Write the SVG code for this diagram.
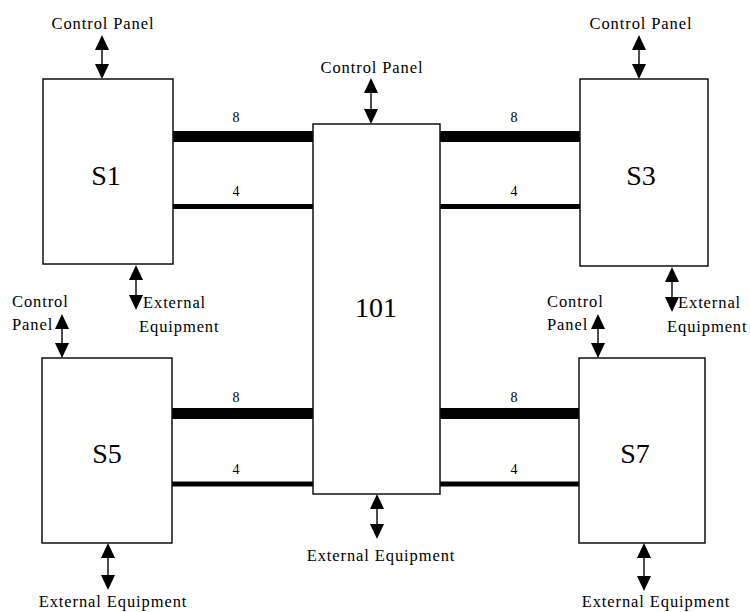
<svg xmlns="http://www.w3.org/2000/svg" width="750" height="612" viewBox="0 0 750 612">
<style>
  .box { fill: #fff; stroke: #111; stroke-width: 1.5; }
  text { font-family: "Liberation Serif", "Times New Roman", "DejaVu Serif", serif; fill: #000; }
  .big { font-size: 28px; text-anchor: middle; }
  .lbl { font-size: 16.5px; letter-spacing: 0.9px; }
  .mid { text-anchor: middle; }
  .num { font-size: 14px; text-anchor: middle; }
  .bus8 { stroke: #000; stroke-width: 11; fill: none; }
  .bus4 { stroke: #000; stroke-width: 5; fill: none; }
  .shaft { stroke: #111; stroke-width: 1.5; fill: none; }
  .head { fill: #000; }
</style>
<defs>
  <g id="dbl">
    <polygon class="head" points="0,0 7,15 -7,15"/>
    <polygon class="head" points="0,0 7,-15 -7,-15" transform="translate(0,1)"/>
  </g>
</defs>
<rect width="750" height="612" fill="#fff"/>

<g id="connectors">
  <line class="bus8" x1="173" y1="136.5" x2="313" y2="136.5"/>
  <line class="bus4" x1="173" y1="206.5" x2="313" y2="206.5"/>
  <line class="bus8" x1="440" y1="136.5" x2="580" y2="136.5"/>
  <line class="bus4" x1="440" y1="206.5" x2="580" y2="206.5"/>
  <line class="bus8" x1="172" y1="413.5" x2="313" y2="413.5"/>
  <line class="bus4" x1="172" y1="484" x2="313" y2="484"/>
  <line class="bus8" x1="440" y1="413.5" x2="579" y2="413.5"/>
  <line class="bus4" x1="440" y1="484" x2="579" y2="484"/>
  <text class="num" x="236" y="122">8</text>
  <text class="num" x="236" y="196">4</text>
  <text class="num" x="514" y="122">8</text>
  <text class="num" x="514" y="196">4</text>
  <text class="num" x="236" y="402">8</text>
  <text class="num" x="236" y="474">4</text>
  <text class="num" x="514" y="402">8</text>
  <text class="num" x="514" y="474">4</text>

  <!-- double-headed arrows: shaft + two heads (top tip, bottom tip) -->
  <g id="arrow-s1-top">
    <line class="shaft" x1="102" y1="45" x2="102" y2="70"/>
    <polygon class="head" points="102,35 109,50 95,50"/>
    <polygon class="head" points="102,79 109,64 95,64"/>
  </g>
  <g id="arrow-101-top">
    <line class="shaft" x1="371" y1="88" x2="371" y2="115"/>
    <polygon class="head" points="371,78 378,93 364,93"/>
    <polygon class="head" points="371,124 378,109 364,109"/>
  </g>
  <g id="arrow-s3-top">
    <line class="shaft" x1="639" y1="45" x2="639" y2="70"/>
    <polygon class="head" points="639,35 646,50 632,50"/>
    <polygon class="head" points="639,79 646,64 632,64"/>
  </g>
  <g id="arrow-s1-bottom">
    <line class="shaft" x1="136" y1="275" x2="136" y2="300"/>
    <polygon class="head" points="136,265 143,280 129,280"/>
    <polygon class="head" points="136,310 143,295 129,295"/>
  </g>
  <g id="arrow-s3-bottom">
    <line class="shaft" x1="672" y1="277" x2="672" y2="302"/>
    <polygon class="head" points="672,267 679,282 665,282"/>
    <polygon class="head" points="672,312 679,297 665,297"/>
  </g>
  <g id="arrow-s5-top">
    <line class="shaft" x1="62" y1="324" x2="62" y2="349"/>
    <polygon class="head" points="62,314 69,329 55,329"/>
    <polygon class="head" points="62,358 69,343 55,343"/>
  </g>
  <g id="arrow-s7-top">
    <line class="shaft" x1="598" y1="324" x2="598" y2="349"/>
    <polygon class="head" points="598,314 605,329 591,329"/>
    <polygon class="head" points="598,358 605,343 591,343"/>
  </g>
  <g id="arrow-s5-bottom">
    <line class="shaft" x1="108" y1="553" x2="108" y2="580"/>
    <polygon class="head" points="108,543 115,558 101,558"/>
    <polygon class="head" points="108,590 115,575 101,575"/>
  </g>
  <g id="arrow-101-bottom">
    <line class="shaft" x1="377" y1="504" x2="377" y2="529"/>
    <polygon class="head" points="377,494 384,509 370,509"/>
    <polygon class="head" points="377,539 384,524 370,524"/>
  </g>
  <g id="arrow-s7-bottom">
    <line class="shaft" x1="644" y1="553" x2="644" y2="581"/>
    <polygon class="head" points="644,543 651,558 637,558"/>
    <polygon class="head" points="644,591 651,576 637,576"/>
  </g>

  <text class="lbl mid" x="103" y="29">Control Panel</text>
  <text class="lbl mid" x="372" y="73">Control Panel</text>
  <text class="lbl mid" x="641" y="29">Control Panel</text>
  <text class="lbl" x="143" y="308">External</text>
  <text class="lbl" x="139" y="332">Equipment</text>
  <text class="lbl" x="678" y="308">External</text>
  <text class="lbl" x="667" y="332">Equipment</text>
  <text class="lbl" x="12" y="307">Control</text>
  <text class="lbl" x="12" y="330">Panel</text>
  <text class="lbl" x="547" y="307">Control</text>
  <text class="lbl" x="547" y="330">Panel</text>
  <text class="lbl mid" x="113" y="607">External Equipment</text>
  <text class="lbl mid" x="381" y="561">External Equipment</text>
  <text class="lbl mid" x="656" y="607">External Equipment</text>
</g>

<g id="S1">
  <rect class="box" x="43" y="79" width="130" height="185"/>
  <text class="big" x="106" y="185">S1</text>
</g>
<g id="S3">
  <rect class="box" x="580" y="79" width="128" height="187"/>
  <text class="big" x="641" y="185">S3</text>
</g>
<g id="S5">
  <rect class="box" x="42" y="358" width="130" height="185"/>
  <text class="big" x="107" y="463">S5</text>
</g>
<g id="S7">
  <rect class="box" x="579" y="358" width="126" height="185"/>
  <text class="big" x="635" y="463">S7</text>
</g>
<g id="N101">
  <rect class="box" x="313" y="124" width="127" height="370"/>
  <text class="big" x="376" y="317">101</text>
</g>
</svg>
